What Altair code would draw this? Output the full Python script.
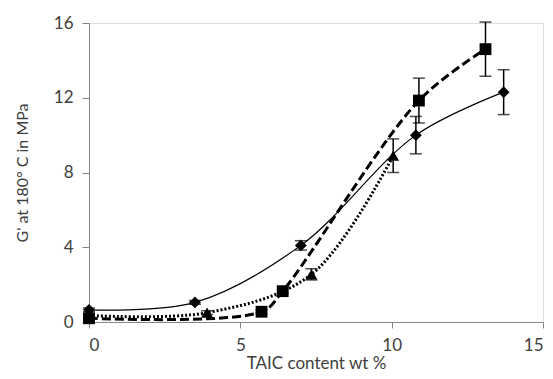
import altair as alt
import pandas as pd

# Diamond series (solid thin line)
x_diamond = [0, 3.5, 7.0, 10.8, 13.7]
y_diamond = [0.65, 1.05, 4.1, 10.0, 12.3]
e_diamond = [0.1, 0.1, 0.25, 1.0, 1.2]
# Square series (thick dashed line)
x_square = [0, 5.7, 6.4, 10.9, 13.1]
y_square = [0.2, 0.55, 1.65, 11.85, 14.6]
e_square = [0.05, 0.1, 0.1, 1.2, 1.45]
# Triangle series (dotted line)
x_triangle = [0, 3.9, 7.35, 10.05]
y_triangle = [0.35, 0.5, 2.55, 8.9]
e_triangle = [0.05, 0.1, 0.3, 0.9]

x_ticks = [0, 5, 10, 15]
y_ticks = [0, 4, 8, 12, 16]


def frame(xs, ys, es, name):
    return pd.DataFrame({
        "x": xs, "y": ys,
        "lo": [a - b for a, b in zip(ys, es)],
        "hi": [a + b for a, b in zip(ys, es)],
        "s": name,
    })


d_dia = frame(x_diamond, y_diamond, e_diamond, "diamond")
d_sq = frame(x_square, y_square, e_square, "square")
d_tri = frame(x_triangle, y_triangle, e_triangle, "triangle")

FONT = "Lato"
xs = alt.Scale(domain=[0, 15], nice=False)
ys = alt.Scale(domain=[0, 16], nice=False)

X = alt.X("x:Q", scale=xs, axis=alt.Axis(
    values=x_ticks, title="TAIC content wt %", grid=False,
    domainColor="#868686", tickColor="#868686", tickSize=6,
    labelFont=FONT, labelFontSize=17, labelColor="#404040",
    titleFont=FONT, titleFontSize=17, titleColor="#404040", titleFontWeight="normal",
    labelPadding=9, titlePadding=2))
Y = alt.Y("y:Q", scale=ys, axis=alt.Axis(
    values=y_ticks, title="G' at 180° C in MPa", grid=False,
    domainColor="#868686", tickColor="#868686", tickSize=7,
    labelFont=FONT, labelFontSize=17, labelColor="#404040",
    titleFont=FONT, titleFontSize=16, titleColor="#404040", titleFontWeight="normal",
    labelPadding=9, titlePadding=23))


def series(df, shape, dash, width, interp):
    base = alt.Chart(df)
    line = base.mark_line(color="black", strokeWidth=width, interpolate=interp,
                          **({"strokeDash": dash} if dash else {})).encode(x=X, y=Y)
    err = base.mark_rule(color="black", strokeWidth=1.5).encode(
        x=alt.X("x:Q", scale=xs), y=alt.Y("lo:Q", scale=ys), y2="hi:Q")
    cap_lo = base.mark_tick(color="black", orient="horizontal", size=12, thickness=1.5).encode(
        x=alt.X("x:Q", scale=xs), y=alt.Y("lo:Q", scale=ys))
    cap_hi = base.mark_tick(color="black", orient="horizontal", size=12, thickness=1.5).encode(
        x=alt.X("x:Q", scale=xs), y=alt.Y("hi:Q", scale=ys))
    pts = base.mark_point(shape=shape, filled=True, color="black", opacity=1, size=140).encode(
        x=alt.X("x:Q", scale=xs), y=alt.Y("y:Q", scale=ys))
    return [line, err, cap_lo, cap_hi, pts]


layers = (series(d_dia, "diamond", None, 1.2, "catmull-rom")
          + series(d_sq, "square", [9, 4], 3, "catmull-rom")
          + series(d_tri, "triangle-up", [2, 2], 3, "catmull-rom"))

chart = alt.layer(*layers).properties(
    width=454, height=299,
    autosize=alt.AutoSizeParams(type="none"),
    padding={"left": 81, "top": 15, "right": 2, "bottom": 49},
).configure_view(stroke=None).configure(background="white")

chart.save("out.html", embed_options={"renderer": "svg", "actions": False})
